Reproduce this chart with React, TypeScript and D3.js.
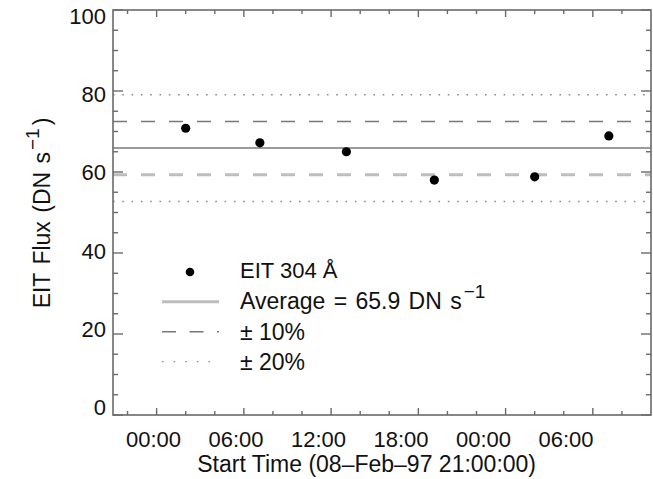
import React from "react";
import * as d3 from "d3";

const W = 653;
const H = 479;

// observation times (hours after 08-Feb-97 21:00:00) and EIT 304 flux
const obsHours = [5.0, 10.1, 16.05, 22.1, 29.0, 34.1];
const fluxValues = [70.8, 67.2, 65.0, 58.0, 58.8, 68.9];
const averageFlux = 65.9;

const xDomain = [0, 37];
const yDomain = [0, 100];
const xMajorTicks = [3, 9, 15, 21, 27, 33];
const xMinorTicks = [1, 5, 7, 11, 13, 17, 19, 23, 25, 29, 31, 35];
const xTickLabels = ["00:00", "06:00", "12:00", "18:00", "00:00", "06:00"];
const yMajorTicks = [0, 20, 40, 60, 80, 100];
const yMinorTicks = [5, 10, 15, 25, 30, 35, 45, 50, 55, 65, 70, 75, 85, 90, 95];

const legendLabels = ["EIT 304 Å", "Average = 65.9 DN s", "± 10%", "± 20%"];

const margin = { left: 113, right: 2, top: 10, bottom: 64 };

export default function App() {
  const x = d3.scaleLinear().domain(xDomain).range([margin.left, W - margin.right]);
  const y = d3.scaleLinear().domain(yDomain).range([H - margin.bottom, margin.top]);
  // text layer of the original is slightly rescaled relative to the graphics
  const xLab = d3.scaleLinear().domain(xDomain).range([112.25, 621]);
  const yLab = d3.scaleLinear().domain(yDomain).range([407.5, 15.8]);

  const x0 = x.range()[0];
  const x1 = x.range()[1];
  const yb = y.range()[0];
  const yt = y.range()[1];

  const axisColor = "#6a6a6a";
  const font = "'Liberation Sans', Arial, Helvetica, sans-serif";
  const fs = 22;
  const fsBig = 23;

  const refLines = [
    { v: averageFlux * 1.2, stroke: "#8a8a8a", w: 1.3, dash: "1.6,7.7" },
    { v: averageFlux * 1.1, stroke: "#777", w: 1.5, dash: "14,14" },
    { v: averageFlux, stroke: "#7a7a7a", w: 1.5, dash: null },
    { v: averageFlux * 0.9, stroke: "#bdbdbd", w: 3, dash: "14,14" },
    { v: averageFlux * 0.8, stroke: "#8a8a8a", w: 1.3, dash: "1.6,7.7" },
  ];

  const legX = 240;
  const legBase = [278, 308.5, 339.5, 370];
  const legSymY = [272, 301.7, 331.7, 361.7];

  return (
    <svg
      width={W}
      height={H}
      style={{ position: "absolute", left: 0, top: 0, background: "#fff" }}
      fontFamily={font}
    >
      <rect x={0} y={0} width={W} height={H} fill="#fff" />
      {/* reference lines */}
      {refLines.map((r, i) => (
        <line
          key={"r" + i}
          x1={x0}
          x2={x1}
          y1={y(r.v)}
          y2={y(r.v)}
          stroke={r.stroke}
          strokeWidth={r.w}
          strokeDasharray={r.dash ?? undefined}
        />
      ))}
      {/* data points */}
      {obsHours.map((h, i) => (
        <circle key={"p" + i} cx={x(h)} cy={y(fluxValues[i])} r={4.6} fill="#000" />
      ))}
      {/* axes box */}
      <rect x={x0} y={yt} width={x1 - x0} height={yb - yt} fill="none" stroke={axisColor} strokeWidth={1.6} />
      {/* y ticks */}
      {yMajorTicks.map((t) => (
        <g key={"ym" + t}>
          <line x1={x0} x2={x0 + 10} y1={y(t)} y2={y(t)} stroke={axisColor} strokeWidth={1.4} />
          <line x1={x1} x2={x1 - 10} y1={y(t)} y2={y(t)} stroke={axisColor} strokeWidth={1.4} />
        </g>
      ))}
      {yMinorTicks.map((t) => (
        <g key={"yn" + t}>
          <line x1={x0} x2={x0 + 5} y1={y(t)} y2={y(t)} stroke={axisColor} strokeWidth={1.4} />
          <line x1={x1} x2={x1 - 5} y1={y(t)} y2={y(t)} stroke={axisColor} strokeWidth={1.4} />
        </g>
      ))}
      {/* x ticks */}
      {xMajorTicks.map((t) => (
        <g key={"xm" + t}>
          <line x1={x(t)} x2={x(t)} y1={yb} y2={yb - 7} stroke={axisColor} strokeWidth={1.4} />
          <line x1={x(t)} x2={x(t)} y1={yt} y2={yt + 7} stroke={axisColor} strokeWidth={1.4} />
        </g>
      ))}
      {xMinorTicks.map((t) => (
        <g key={"xn" + t}>
          <line x1={x(t)} x2={x(t)} y1={yb} y2={yb - 4} stroke={axisColor} strokeWidth={1.4} />
          <line x1={x(t)} x2={x(t)} y1={yt} y2={yt + 4} stroke={axisColor} strokeWidth={1.4} />
        </g>
      ))}
      {/* y tick labels */}
      {yMajorTicks.map((t) => (
        <text
          key={"yl" + t}
          x={106}
          y={yLab(t)}
          dy="0.36em"
          textAnchor="end"
          fontSize={fs}
          fill="#111"
        >
          {t}
        </text>
      ))}
      {/* x tick labels */}
      {xMajorTicks.map((t, i) => (
        <text key={"xl" + t} x={xLab(t)} y={446.5} textAnchor="middle" fontSize={fs} fill="#111">
          {xTickLabels[i]}
        </text>
      ))}
      {/* axis titles */}
      <text x={xLab(18.5)} y={471.5} textAnchor="middle" fontSize={fsBig} fill="#111">
        Start Time (08–Feb–97 21:00:00)
      </text>
      <text
        transform={`translate(50, 213) rotate(-90)`}
        textAnchor="middle"
        fontSize={fsBig}
        fill="#111"
        wordSpacing={2}
      >
        EIT Flux (DN s
        <tspan fontSize={19} dy={-11} dx={2}>−1</tspan>
        <tspan dy={11} dx={3}>)</tspan>
      </text>
      {/* legend */}
      <circle cx={190} cy={legSymY[0]} r={4.3} fill="#000" />
      <line x1={162} x2={219} y1={legSymY[1]} y2={legSymY[1]} stroke="#bdbdbd" strokeWidth={3} />
      <line x1={162} x2={219} y1={legSymY[2]} y2={legSymY[2]} stroke="#777" strokeWidth={1.5} strokeDasharray="14,13.5" />
      <line x1={162} x2={219} y1={legSymY[3]} y2={legSymY[3]} stroke="#8a8a8a" strokeWidth={1.3} strokeDasharray="1.6,10" />
      <text x={legX} y={legBase[0]} fontSize={fs} fill="#111">{legendLabels[0]}</text>
      <text x={legX} y={legBase[1]} fontSize={fsBig} fill="#111" wordSpacing={2}>
        {legendLabels[1]}
        <tspan fontSize={19} dy={-11} dx={2}>−1</tspan>
      </text>
      <text x={legX} y={legBase[2]} fontSize={fsBig} fill="#111">{legendLabels[2]}</text>
      <text x={legX} y={legBase[3]} fontSize={fsBig} fill="#111">{legendLabels[3]}</text>
    </svg>
  );
}
